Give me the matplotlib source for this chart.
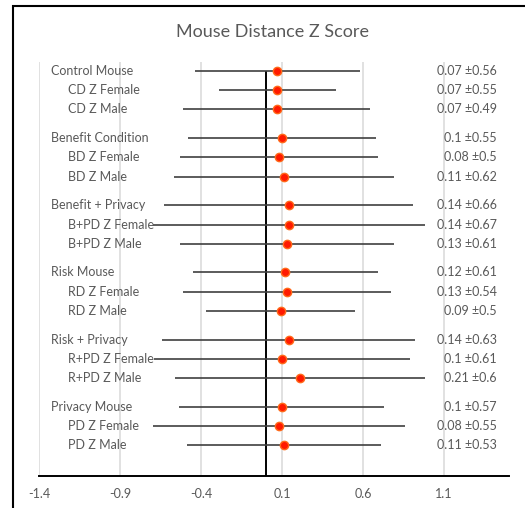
import matplotlib.pyplot as plt
from matplotlib.patches import Rectangle
import numpy as np

plt.rcParams['font.family'] = ['Lato', 'DejaVu Sans']

# groups of three rows: overall condition, female, male
group_names = ["Control Mouse", "Benefit Condition", "Benefit + Privacy",
               "Risk Mouse", "Risk + Privacy", "Privacy Mouse"]
sub_names = [["CD Z Female", "CD Z Male"],
             ["BD Z Female", "BD Z Male"],
             ["B+PD Z Female", "B+PD Z Male"],
             ["RD Z Female", "RD Z Male"],
             ["R+PD Z Female", "R+PD Z Male"],
             ["PD Z Female", "PD Z Male"]]

means = [0.07, 0.07, 0.07,
         0.1, 0.08, 0.11,
         0.14, 0.14, 0.13,
         0.12, 0.13, 0.09,
         0.14, 0.1, 0.21,
         0.1, 0.08, 0.11]
sds = [0.56, 0.55, 0.49,
       0.55, 0.5, 0.62,
       0.66, 0.67, 0.61,
       0.61, 0.54, 0.5,
       0.63, 0.61, 0.6,
       0.57, 0.55, 0.53]
# whisker ends as drawn in the chart
err_lo = [-0.44, -0.29, -0.51,
          -0.48, -0.53, -0.57,
          -0.63, -0.70, -0.53,
          -0.45, -0.51, -0.37,
          -0.64, -0.69, -0.56,
          -0.54, -0.70, -0.49]
err_hi = [0.58, 0.43, 0.64,
          0.68, 0.69, 0.79,
          0.91, 0.98, 0.79,
          0.69, 0.77, 0.55,
          0.92, 0.89, 0.98,
          0.73, 0.86, 0.71]
x_ticks = [-1.4, -0.9, -0.4, 0.1, 0.6, 1.1]

GRAY = '#595959'
W, H = 525, 508
fig = plt.figure(figsize=(W / 100, H / 100), dpi=100)
ax = fig.add_axes([39.3 / W, 1 - 476 / H, (509 - 39.3) / W, (476 - 61.7) / H])

labels, ys, heads = [], [], []
for g, name in enumerate(group_names):
    for r, lab in enumerate([name] + sub_names[g]):
        labels.append(lab)
        ys.append(g * 3.5 + r)
        heads.append(r == 0)
ys = np.array(ys)
means = np.array(means)

ymax = 21.1
ax.set_ylim(ymax, -0.48)
ax.set_xlim(-1.4, 1.5)

for t in x_ticks:
    ax.axvline(t, color='#d9d9d9', lw=1.1, zorder=0)
ax.vlines(0, 0, ymax, color='black', lw=1.4, zorder=1)

ax.hlines(ys, err_lo, err_hi, color='#404040', lw=1.2, zorder=2)
ax.plot(means, ys, 'o', ms=6, mfc='#ff1a00', mec='#ff6a1a', mew=1, zorder=3)

tr = ax.get_yaxis_transform()
for y, lab, hd, m, s in zip(ys, labels, heads, means, sds):
    ax.text(0.025 if hd else 0.061, y, lab, transform=tr, ha='left', va='center',
            fontsize=9, color=GRAY)
    ax.text(0.9745, y, f"{m:g} \u00b1{s:g}", transform=tr, ha='right', va='center',
            fontsize=9, color=GRAY)

for side in ['top', 'right', 'left']:
    ax.spines[side].set_visible(False)
ax.spines['bottom'].set_linewidth(1.4)
ax.spines['bottom'].set_color('black')
ax.set_yticks([])
ax.set_xticks(x_ticks)
ax.set_xticklabels([f"{t:g}" for t in x_ticks])
ax.tick_params(axis='x', length=0, pad=9, labelsize=9, labelcolor=GRAY)

fig.text(273 / W, 1 - 32 / H, "Mouse Distance Z Score", ha='center', va='center',
         fontsize=13, color=GRAY)

fig.patches.append(Rectangle((12.5 / W, -0.1), 1.2, 1 - 6 / H + 0.1,
                             transform=fig.transFigure, fill=False,
                             edgecolor='black', lw=1.5))

fig.savefig('out.png', dpi=100)
